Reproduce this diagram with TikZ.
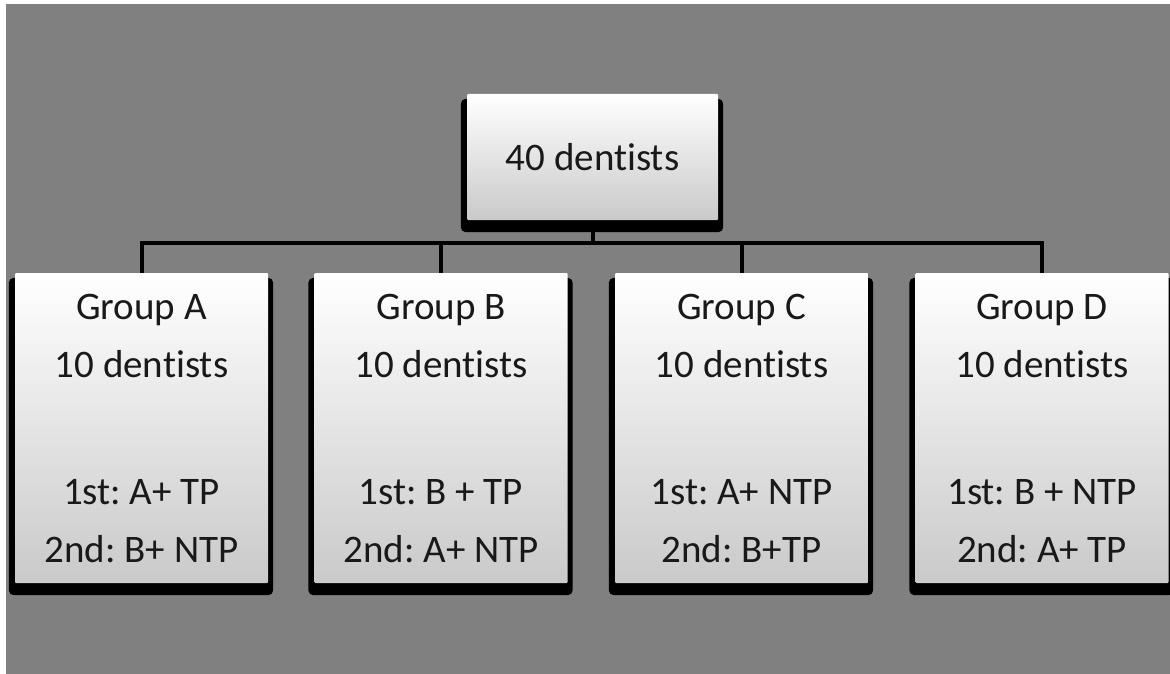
\documentclass[tikz,border=0pt]{standalone}
\usepackage{fontspec}
\setmainfont{Carlito}[Ligatures=NoCommon]
\usetikzlibrary{backgrounds,calc}
\frenchspacing
\begin{document}
\begin{tikzpicture}[x=1pt,y=-1pt,
  box/.style={draw=none, top color=white, bottom color=gray!42, rounded corners=1pt,
    inner sep=0pt, align=center, text=black!90, font=\fontsize{39}{58}\selectfont\frenchspacing},
  topbox/.style={box, minimum width=251pt, minimum height=126pt},
  grpbox/.style={box, minimum width=253pt, minimum height=310pt},
  link/.style={line width=4pt, draw=black},
  shadowfill/.style={fill=black, rounded corners=5pt}]
\useasboundingbox (0,0) rectangle (1170,674);
\node[topbox] (top) at (592.5,157) {40 dentists};
\node[grpbox] (A) at (141.5,428) {Group A\\10 dentists\\[69pt]1st: A+ TP\\2nd: B+ NTP};
\node[grpbox] (B) at (441,428) {Group B\\10 dentists\\[69pt]1st: B + TP\\2nd: A+ NTP};
\node[grpbox] (C) at (741.5,428) {Group C\\10 dentists\\[69pt]1st: A+ NTP\\2nd: B+TP};
\node[grpbox] (D) at (1042,428) {Group D\\10 dentists\\[69pt]1st: B + NTP\\2nd: A+ TP};
\begin{scope}[on background layer]
  \fill[white] (0,0) rectangle (1170,674);
  \fill[gray] (6,4) rectangle (1170,674);
  \foreach \n in {top,A,B,C,D}{
    \fill[shadowfill] ($(\n.north west)+(-6,5)$) rectangle ($(\n.south east)+(5,12)$);
  }
  \coordinate (bus) at ($(top.south)+(0,23)$);
  \draw[link] (top.south) -- (bus);
  \foreach \n in {A,B,C,D}{
    \draw[link] (bus) -| (\n.north);
  }
\end{scope}
\end{tikzpicture}
\end{document}
